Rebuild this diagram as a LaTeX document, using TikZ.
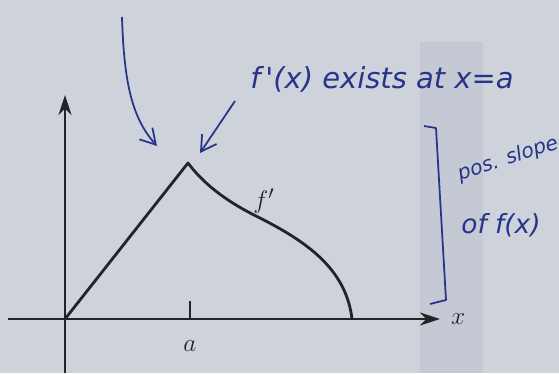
\documentclass[tikz,border=0pt]{standalone}
\usepackage{fontspec}
\usepackage{tikz}
\usetikzlibrary{arrows.meta,positioning,calc}
\newfontfamily\handfont{DejaVu Sans}
\definecolor{paper}{RGB}{205,210,219}
\definecolor{paperdark}{RGB}{197,201,211}
\definecolor{ink}{RGB}{38,52,138}
\definecolor{print}{RGB}{35,35,40}

\begin{document}
\begin{tikzpicture}[
    x=0.02cm, y=0.02cm,
    axis/.style={-{Stealth[length=4mm,width=2.6mm]}, line width=1.3pt, print},
    graph/.style={line width=1.6pt, print, line join=round},
    printlabel/.style={font=\fontsize{15}{15}\selectfont, print},
    note/.style={ink, font=\handfont\itshape\fontsize{16.5}{16.5}\selectfont, inner sep=0pt},
    pen/.style={-{Straight Barb[length=3mm,width=3.5mm]}, ink, line width=1pt}
]
\fill[paper] (0,0) rectangle (559,373);
\fill[paperdark] (420,0) rectangle (483,331);
\useasboundingbox (0,0) rectangle (559,373);

\coordinate (ybot) at (65,0);
\coordinate (ytop) at (65,278);
\coordinate (xleft) at (8,54);
\coordinate (xright) at (440,54);
\coordinate (origin) at (65,54);
\coordinate (peak) at (188,210);
\coordinate (foot) at (352,54);
\coordinate (tick) at (190,72);
\coordinate (atick) at (190,54);

\draw[axis] (ybot) -- (ytop);
\draw[axis] (xleft) -- (xright);
\draw[line width=0.8pt, print] (atick) -- (tick);

\node[printlabel, below=3mm of atick] (alabel) {$a$};
\node[printlabel, right=1mm of xright] (xlabel) {$x$};
\node[printlabel] (fprime) at (264,172) {$f'$};

\draw[graph] (origin) -- (peak)
    .. controls (203,190) and (225,172) .. (260,155)
    .. controls (305,132) and (346,105) .. (foot);

\node[note] (exists) at (382,294) {f\,'(x) exists at x=a};
\coordinate (penstart) at (122,356);
\coordinate (penend) at (157,227);
\coordinate (existsstart) at (235,272);
\coordinate (existsend) at (200,220);
\draw[pen] (penstart) .. controls (124,290) and (132,255) .. (penend);
\draw[pen] (existsstart) -- (existsend);

\coordinate (brtop) at (424,247);
\coordinate (brbot) at (430,69);
\draw[ink, line width=1pt, line join=round] (brtop) -- (436,245) -- (446,73) -- (brbot);

\node[note, rotate=18, font=\handfont\itshape\fontsize{11.5}{11.5}\selectfont] (posslope) at (508,214) {pos. slope};
\node[note, font=\handfont\itshape\fontsize{15}{15}\selectfont] (off) at (501,148) {of f(x)};
\end{tikzpicture}
\end{document}
